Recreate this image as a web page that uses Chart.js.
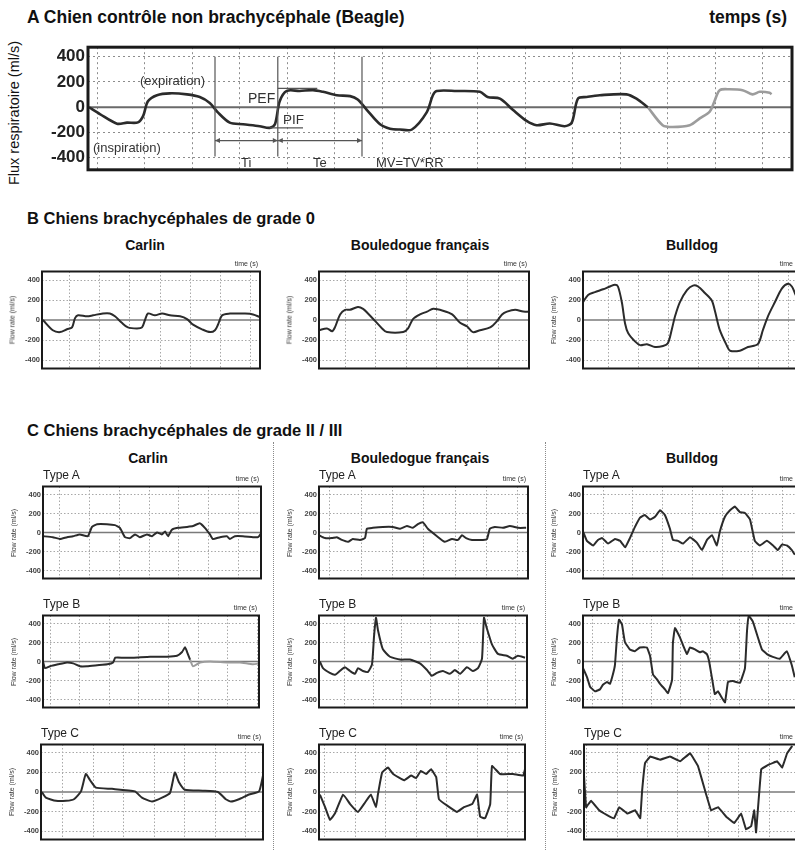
<!DOCTYPE html>
<html><head><meta charset="utf-8">
<script src="https://cdn.jsdelivr.net/npm/chart.js@4.4.1/dist/chart.umd.min.js"></script>
<style>
html,body{margin:0;padding:0;background:#fff;}
body{width:795px;height:850px;position:relative;overflow:hidden;font-family:"Liberation Sans",Arial,sans-serif;color:#111;}
.t{position:absolute;white-space:nowrap;line-height:1;}
canvas{position:absolute;}
.sep{position:absolute;width:0;border-left:1.5px dotted #8a8a8a;}
</style></head><body>
<script>
// ---------- DATA ----------
const yTicks = [-400, -200, 0, 200, 400];

// A : Beagle
const beagleTime = [-0.17,0.06,0.42,0.63,0.86,0.97,1.07,1.26,1.53,1.89,2.16,2.37,2.54,2.79,3.07,3.42,3.63,3.74,3.84,3.99,4.26,4.54,4.75,5.04,5.32,5.48,5.67,5.95,6.16,6.37,6.62,6.93,7.06,7.14,7.56,8.05,8.21,8.47,8.74,9.03,9.24,9.52,9.83,9.98,10.11,10.29,10.57,11.13,11.34,11.58];
const beagleFlow = [0,-54,-130,-122,-120,-68,47,95,110,102,81,34,-41,-122,-135,-150,-163,-135,47,129,129,135,122,95,88,61,-20,-135,-170,-176,-176,-41,95,129,129,122,81,68,-20,-108,-142,-129,-150,-122,68,81,95,102,68,0];
const beagleTimeLate = [11.58,11.89,12.10,12.46,12.67,12.88,12.98,13.09,13.30,13.57,13.78,13.93,14.14,14.18];
const beagleFlowLate = [0,-142,-156,-142,-88,-34,47,135,142,135,102,122,115,102];
const phaseMarks = [2.48, 3.8, 5.57];
const tiTeLevel = -264;
const pefLevel = 149, pefFrom = 3.8, pefTo = 4.63;
const pifLevel = -163, pifFrom = 3.63, pifTo = 4.33;

// B : grade 0
const bCarlinTime = [-0.9,-0.57,-0.33,-0.1,0.07,0.17,0.27,0.57,0.77,1.1,1.33,1.5,1.73,1.93,2.23,2.4,2.5,2.6,2.83,3.07,3.33,3.67,3.9,4.1,4.4,4.67,4.83,4.93,5.07,5.33,5.6,5.77,6.1,6.33];
const bCarlinFlow = [0,-102,-121,-93,-74,19,47,37,47,65,65,37,-28,-74,-84,-74,0,65,47,65,47,37,9,-47,-93,-121,-102,-47,47,65,65,65,56,28];
const bBoulTime = [-0.85,-0.59,-0.42,-0.33,-0.16,0,0.16,0.42,0.59,0.75,0.98,1.21,1.37,1.9,2.06,2.22,2.45,2.68,2.88,3.2,3.5,3.76,3.99,4.18,4.41,4.74,4.97,5.13,5.29,5.56,5.82,6.01];
const bBoulFlow = [-102,-84,-112,-74,56,102,102,130,112,65,-9,-84,-121,-121,-84,9,56,84,112,93,56,-28,-65,-121,-102,-74,-9,56,84,102,84,84];
const bBullTime = [-0.87,-0.7,-0.47,-0.2,0.03,0.2,0.3,0.43,0.54,0.64,0.87,1.04,1.27,1.54,1.81,1.97,2.11,2.21,2.37,2.61,2.81,2.98,3.21,3.44,3.55,3.71,3.95,4.05,4.38,4.65,4.98,5.15,5.32,5.55,5.79,5.99,6.12,6.22,6.4];
const bBullFlow = [177,251,279,307,335,353,335,177,-37,-130,-214,-251,-242,-270,-260,-233,-84,37,177,298,344,335,270,195,84,-102,-260,-307,-307,-270,-242,-102,37,177,316,363,335,270,150];

// C : grade II / III - Type A
const cACarlinTime = [-0.57,-0.24,0,0.24,0.44,0.67,0.94,1.08,1.25,1.58,1.85,2.02,2.19,2.36,2.53,2.69,2.93,3.1,3.27,3.43,3.54,3.64,3.77,3.97,4.28,4.48,4.71,4.88,5.05,5.15,5.39,5.62,5.72,5.89,6.16,6.5,6.67,6.77];
const cACarlinFlow = [-39,-49,-68,-49,-39,-20,-39,59,88,88,78,49,-49,-59,-20,-49,-20,-39,0,-20,10,-39,29,49,59,68,98,49,-20,-68,-49,-39,-68,-39,-39,-49,-49,-10];
const cABoulTime = [-0.35,-0.16,0.06,0.22,0.38,0.58,0.73,0.96,1.12,1.18,1.37,1.69,2.01,2.24,2.46,2.65,2.81,2.97,3.13,3.42,3.67,3.9,4.09,4.22,4.35,4.54,4.89,5.02,5.11,5.27,5.53,5.75,6.01,6.27];
const cABoulFlow = [-29,-59,-59,-49,-78,-98,-68,-78,-59,39,49,59,59,39,68,49,88,107,39,-39,-98,-68,-78,-29,-59,-78,-78,-68,39,59,49,68,49,49];
const cABullTime = [-0.67,-0.54,-0.33,-0.17,-0.03,0.17,0.4,0.57,0.74,0.9,1.07,1.24,1.4,1.57,1.74,1.91,2.07,2.24,2.34,2.51,2.68,2.91,3.14,3.31,3.48,3.65,3.81,3.91,4.08,4.25,4.41,4.58,4.75,4.92,5.08,5.25,5.48,5.69,5.85,5.99,6.15,6.32,6.42];
const cABullFlow = [10,-88,-137,-78,-59,-117,-68,-88,-156,-59,59,156,185,137,166,234,185,39,-78,-88,-117,-49,-107,-185,-78,-29,-137,10,166,234,273,215,205,137,-88,-137,-88,-137,-185,-127,-137,-185,-234];

// Type B
const cBCarlinTime = [-0.24,-0.17,0,0.27,0.57,0.78,1.01,1.25,1.59,1.93,2.13,2.2,2.47,2.8,3.38,3.95,4.29,4.46,4.56,4.63,4.73];
const cBCarlinFlow = [0,-70,-50,-30,-10,-20,-50,-50,-40,-30,-10,40,40,40,50,50,60,100,150,100,20];
const cBCarlinTimeLate = [4.73,4.83,5.07,5.41,5.98,6.42,6.86,7.06];
const cBCarlinFlowLate = [20,-50,-10,0,-10,-10,-30,-20];
const cBBoulTime = [-0.88,-0.77,-0.53,-0.35,-0.18,0,0.18,0.35,0.46,0.63,0.81,0.95,1.02,1.09,1.16,1.33,1.58,1.93,2.28,2.63,2.88,3.05,3.23,3.44,3.68,3.86,4.04,4.28,4.49,4.67,4.81,4.88,4.98,5.16,5.37,5.68,5.89,6.07,6.32];
const cBBoulFlow = [0,-70,-120,-140,-100,-60,-100,-130,-70,-100,-110,-30,260,460,330,130,50,20,20,-20,-90,-150,-120,-100,-130,-90,-130,-60,-100,-70,30,460,350,180,80,60,30,60,40];
const cBBullTime = [-0.34,-0.2,-0.1,0.07,0.24,0.34,0.48,0.58,0.68,0.75,0.82,0.89,0.99,1.09,1.26,1.43,1.6,1.84,1.95,2.05,2.18,2.29,2.46,2.56,2.7,2.73,2.8,2.97,3.07,3.21,3.31,3.48,3.65,3.75,3.89,3.96,4.06,4.16,4.27,4.4,4.51,4.61,4.78,5.02,5.19,5.26,5.32,5.46,5.63,5.77,5.94,6.14,6.38,6.62,6.79,6.89];
const cBBullFlow = [-69,-167,-265,-314,-294,-245,-216,-235,-137,-39,255,441,392,206,127,108,147,147,59,-137,-186,-235,-294,-333,-196,196,353,255,176,78,147,127,98,108,78,10,-167,-343,-314,-382,-431,-216,-206,-225,-69,323,480,421,255,127,78,49,29,108,-39,-167];

// Type C
const cCCarlinTime = [-0.69,-0.56,-0.23,0.1,0.36,0.59,0.75,0.89,1.08,1.61,2.36,2.59,2.92,3.25,3.51,3.67,3.8,4.0,4.59,5.08,5.34,5.51,5.77,6.1,6.43,6.56];
const cCCarlinFlow = [0,-58,-90,-90,-74,6,184,120,45,32,6,-58,-97,-58,-10,200,103,23,13,0,-74,-97,-74,-26,6,168];
const cCBoulTime = [-1.15,-0.98,-0.82,-0.66,-0.39,-0.16,0.1,0.33,0.52,0.69,0.75,0.89,1.08,1.25,1.61,1.84,2.0,2.16,2.33,2.49,2.66,2.75,3.02,3.34,3.57,3.84,4.0,4.1,4.26,4.43,4.49,4.75,5.18,5.51,5.57];
const cCBoulFlow = [-26,-155,-284,-220,-26,-123,-203,-107,-26,-155,-26,200,249,184,120,168,142,216,184,232,152,-74,-139,-203,-155,-123,-26,-252,-268,-123,265,184,184,168,232];
const cCBullTime = [-1.09,-1.02,-0.86,-0.59,-0.33,-0.1,0.07,0.33,0.59,0.76,0.82,0.92,1.09,1.41,1.74,2.07,2.4,2.66,2.93,3.09,3.32,3.59,3.85,4.08,4.24,4.41,4.51,4.57,4.74,5.0,5.26,5.43,5.59,5.76];
const cCBullFlow = [168,-155,-90,-187,-236,-268,-155,-220,-187,-268,6,297,362,330,362,313,395,265,-26,-187,-155,-252,-317,-220,-381,-349,-187,-413,232,281,313,249,394,470];

// ---------- STYLE / LAYOUT ----------
const DARK = '#2b2b2b', LIGHT = '#9c9c9c';

function txt(s, x, y, size, weight, opts) {
  opts = opts || {};
  const d = document.createElement('div');
  d.className = 't';
  d.textContent = s;
  d.style.fontSize = size + 'px';
  d.style.fontWeight = weight || 'normal';
  d.style.color = opts.color || '#111';
  d.style.left = x + 'px';
  d.style.top = y + 'px';
  let tr = 'translateY(-50%)';
  if (opts.align === 'center') tr = 'translate(-50%,-50%)';
  if (opts.align === 'right') tr = 'translate(-100%,-50%)';
  if (opts.rotate) tr = 'translate(-50%,-50%) rotate(-90deg)';
  d.style.transform = tr;
  document.body.appendChild(d);
}

const frame = {
  id: 'frame',
  beforeDatasetsDraw(chart, args, o) {
    const {ctx, chartArea: a, scales: {y}} = chart;
    const y0 = y.getPixelForValue(0);
    ctx.save();
    ctx.strokeStyle = o.zeroColor; ctx.lineWidth = o.zeroWidth;
    ctx.beginPath(); ctx.moveTo(a.left, y0); ctx.lineTo(a.right, y0); ctx.stroke();
    ctx.restore();
  },
  afterDraw(chart, args, o) {
    const {ctx, chartArea: a} = chart;
    ctx.save();
    ctx.strokeStyle = '#1a1a1a'; ctx.lineWidth = o.frameWidth;
    ctx.strokeRect(a.left, a.top, a.right - a.left, a.bottom - a.top);
    ctx.restore();
  }
};

const beagleMarks = {
  id: 'beagleMarks',
  afterDatasetsDraw(chart) {
    const {ctx, scales: {x, y}} = chart;
    ctx.save();
    ctx.strokeStyle = '#555'; ctx.fillStyle = '#555'; ctx.lineWidth = 1.2;
    phaseMarks.forEach(t => {
      const px = x.getPixelForValue(t);
      ctx.beginPath(); ctx.moveTo(px, y.getPixelForValue(400)); ctx.lineTo(px, y.getPixelForValue(-390)); ctx.stroke();
    });
    const hline = (a, b, v, arrows) => {
      const pa = x.getPixelForValue(a), pb = x.getPixelForValue(b), py = y.getPixelForValue(v);
      ctx.beginPath(); ctx.moveTo(pa, py); ctx.lineTo(pb, py); ctx.stroke();
      if (arrows) {
        ctx.beginPath(); ctx.moveTo(pa, py); ctx.lineTo(pa + 5, py - 2.5); ctx.lineTo(pa + 5, py + 2.5); ctx.closePath(); ctx.fill();
        ctx.beginPath(); ctx.moveTo(pb, py); ctx.lineTo(pb - 5, py - 2.5); ctx.lineTo(pb - 5, py + 2.5); ctx.closePath(); ctx.fill();
      }
    };
    hline(phaseMarks[0], phaseMarks[1], tiTeLevel, true);
    hline(phaseMarks[1], phaseMarks[2], tiTeLevel, true);
    hline(pefFrom, pefTo, pefLevel, false);
    hline(pifFrom, pifTo, pifLevel, false);
    ctx.restore();
  }
};

function makeChart(p) {
  const pad = 3;
  const w = p.right - p.left + p.axisW + pad;
  const h = p.bottom - p.top + 2 * pad;
  const c = document.createElement('canvas');
  c.width = w; c.height = h;
  c.style.left = (p.left - p.axisW) + 'px';
  c.style.top = (p.top - pad) + 'px';
  c.style.width = w + 'px'; c.style.height = h + 'px';
  document.body.appendChild(c);
  const dash = p.big ? [2, 3] : [1.5, 2];
  const gridColor = p.big ? '#8c8c8c' : '#a8a8a8';
  new Chart(c, {
    type: 'line',
    data: {
      datasets: p.series.map(s => ({
        data: s[0].map((t, i) => ({x: t, y: s[1][i]})),
        borderColor: s[2], borderWidth: p.lw, pointRadius: 0,
        tension: p.tension, fill: false
      }))
    },
    options: {
      responsive: false, animation: false, devicePixelRatio: 1,
      layout: {padding: {left: 0, top: pad, right: pad, bottom: pad}},
      plugins: {legend: {display: false}, tooltip: {enabled: false},
        frame: {zeroColor: p.big ? '#6a6a6a' : '#7a7a7a', zeroWidth: p.big ? 2 : 1.5, frameWidth: p.big ? 3 : 2}},
      scales: {
        x: {
          type: 'linear', min: p.xMin, max: p.xMax,
          afterBuildTicks: s => {
            const arr = [];
            for (let v = Math.ceil(p.xMin); v <= Math.floor(p.xMax); v++) arr.push({value: v});
            s.ticks = arr;
          },
          ticks: {display: false},
          grid: {color: gridColor, lineWidth: 1, drawTicks: false},
          border: {display: false, dash: dash},
          afterFit: s => { s.height = 0; }
        },
        y: {
          min: p.yMin, max: p.yMax,
          afterBuildTicks: s => { s.ticks = yTicks.map(v => ({value: v})); },
          ticks: {font: {family: '"Liberation Sans", Arial, sans-serif', size: p.tickSize, weight: 'bold'},
                  color: p.big ? '#222' : '#444', padding: p.big ? 3 : 2},
          grid: {color: ctx => (ctx.tick && ctx.tick.value === 0) ? 'rgba(0,0,0,0)' : gridColor, lineWidth: 1, drawTicks: false},
          border: {display: false, dash: dash},
          afterFit: s => { s.width = p.axisW; }
        }
      }
    },
    plugins: p.big ? [frame, beagleMarks] : [frame]
  });
}

// ---------- PANEL A ----------
makeChart({big: true, left: 88, top: 37, right: 792, bottom: 180, axisW: 46,
  xMin: -0.19, xMax: 14.61, yMin: -495, yMax: 475, lw: 2.6, tension: 0.3, tickSize: 17,
  series: [[beagleTime, beagleFlow, DARK], [beagleTimeLate, beagleFlowLate, LIGHT]]});

txt('A Chien contrôle non brachycéphale (Beagle)', 27, 18, 17.5, 'bold');
txt('temps (s)', 787, 18, 17.5, 'bold', {align: 'right'});
txt('Flux respiratoire (ml/s)', 14, 113, 14.5, 'normal', {rotate: true});
txt('(expiration)', 140, 80, 13, 'normal', {color: '#333'});
txt('(inspiration)', 93, 147, 13, 'normal', {color: '#333'});
txt('PEF', 248, 98, 14, 'normal', {color: '#333'});
txt('PIF', 283, 120, 13.5, 'normal', {color: '#333'});
txt('Ti', 241, 162, 13, 'normal', {color: '#333'});
txt('Te', 313, 162, 13, 'normal', {color: '#333'});
txt('MV=TV*RR', 376, 162, 13, 'normal', {color: '#333'});

// ---------- SMALL PANELS ----------
function small(left, right, top, bottom, xMin, xMax, series, typeLabel, tension) {
  makeChart({big: false, left, right, top, bottom, axisW: 28, xMin, xMax,
    yMin: -485, yMax: 485, lw: 2, tension: tension, tickSize: 7.5, series});
  txt('time (s)', right - 2, top - 5, 7, 'normal', {align: 'right', color: '#333'});
  txt('Flow rate (ml/s)', left - 30, (top + bottom) / 2, 7, 'normal', {rotate: true, color: '#333'});
  if (typeLabel) txt(typeLabel, left, top - 8, 12, 'normal', {color: '#222'});
}

txt('B Chiens brachycéphales de grade 0', 27, 218, 16.5, 'bold');
txt('Carlin', 145, 245, 14, 'bold', {align: 'center'});
txt('Bouledogue français', 420, 245, 14, 'bold', {align: 'center'});
txt('Bulldog', 692, 245, 14, 'bold', {align: 'center'});

small(42, 260, 268, 372, -0.93, 6.33, [[bCarlinTime, bCarlinFlow, DARK]], null, 0.3);
small(319, 529, 268, 372, -0.85, 6.01, [[bBoulTime, bBoulFlow, DARK]], null, 0.3);
small(583, 805, 268, 372, -0.87, 6.56, [[bBullTime, bBullFlow, DARK]], null, 0.3);

txt('C Chiens brachycéphales de grade II / III', 27, 430, 16.5, 'bold');
txt('Carlin', 148, 458, 14, 'bold', {align: 'center'});
txt('Bouledogue français', 420, 458, 14, 'bold', {align: 'center'});
txt('Bulldog', 692, 458, 14, 'bold', {align: 'center'});

[273, 545].forEach(x => {
  const s = document.createElement('div');
  s.className = 'sep'; s.style.left = x + 'px'; s.style.top = '442px'; s.style.height = '408px';
  document.body.appendChild(s);
});

small(43, 261, 483, 582, -0.57, 6.77, [[cACarlinTime, cACarlinFlow, DARK]], 'Type A', 0.15);
small(319, 528, 483, 582, -0.35, 6.33, [[cABoulTime, cABoulFlow, DARK]], 'Type A', 0.15);
small(583, 805, 483, 582, -0.67, 6.76, [[cABullTime, cABullFlow, DARK]], 'Type A', 0.1);

small(43, 259, 612, 711, -0.24, 7.06, [[cBCarlinTime, cBCarlinFlow, DARK], [cBCarlinTimeLate, cBCarlinFlowLate, LIGHT]], 'Type B', 0.15);
small(319, 527, 612, 711, -0.91, 6.39, [[cBBoulTime, cBBoulFlow, DARK]], 'Type B', 0.15);
small(583, 805, 612, 711, -0.34, 7.24, [[cBBullTime, cBBullFlow, DARK]], 'Type B', 0.1);

small(41, 263, 741, 843, -0.72, 6.56, [[cCCarlinTime, cCCarlinFlow, DARK]], 'Type C', 0.15);
small(319, 525, 741, 843, -1.18, 5.57, [[cCBoulTime, cCBoulFlow, DARK]], 'Type C', 0.1);
small(584, 805, 741, 843, -1.09, 6.18, [[cCBullTime, cCBullFlow, DARK]], 'Type C', 0.05);
</script>
</body></html>
